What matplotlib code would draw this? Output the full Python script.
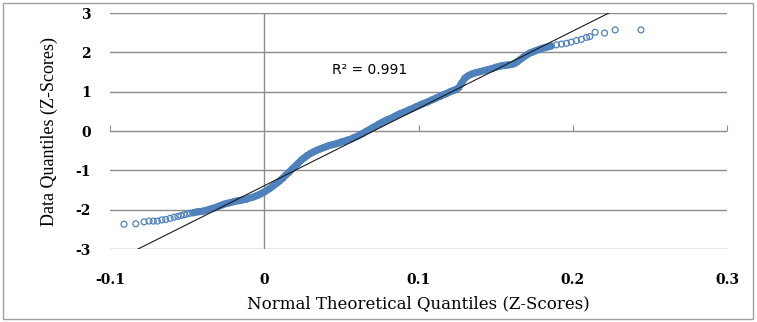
import matplotlib.pyplot as plt
from matplotlib.patches import Rectangle

plt.rcParams["axes.unicode_minus"] = False

# quantile pairs (x = normal theoretical, y = data)
qq_x = [-0.0909, -0.0833, -0.0779, -0.0747, -0.0719, -0.0693, -0.0664, -0.0639, -0.0610, -0.0584,
        -0.056, -0.054, -0.052, -0.050, -0.048, -0.046, -0.044, -0.042, -0.040, -0.038,
        -0.036, -0.034, -0.032, -0.030, -0.028, -0.026, -0.024, -0.022, -0.020, -0.018,
        -0.016, -0.014, -0.012, -0.010, -0.008, -0.006, -0.004, -0.002, 0.000, 0.002,
        0.004, 0.006, 0.008, 0.010, 0.012, 0.014, 0.016, 0.018, 0.020, 0.022,
        0.024, 0.026, 0.028, 0.030, 0.032, 0.034, 0.036, 0.038, 0.040, 0.042,
        0.044, 0.046, 0.048, 0.050, 0.052, 0.054, 0.056, 0.058, 0.060, 0.062,
        0.064, 0.066, 0.068, 0.070, 0.072, 0.074, 0.076, 0.078, 0.080, 0.082,
        0.084, 0.086, 0.088, 0.090, 0.092, 0.094, 0.096, 0.098, 0.100, 0.102,
        0.104, 0.106, 0.108, 0.110, 0.112, 0.114, 0.116, 0.118, 0.120, 0.122,
        0.124, 0.126, 0.128, 0.130, 0.132, 0.134, 0.136, 0.138, 0.140, 0.142,
        0.144, 0.146, 0.148, 0.150, 0.152, 0.154, 0.156, 0.158, 0.160, 0.162,
        0.164, 0.166, 0.168, 0.170, 0.172, 0.174, 0.176, 0.178, 0.180, 0.182,
        0.184, 0.186, 0.1894, 0.1927, 0.1959, 0.1991, 0.2024, 0.2056, 0.2089, 0.2110,
        0.2145, 0.2206, 0.2275, 0.2442]
qq_y = [-2.37, -2.36, -2.31, -2.29, -2.29, -2.29, -2.26, -2.25, -2.22, -2.19,
        -2.17, -2.15, -2.13, -2.11, -2.09, -2.08, -2.06, -2.05, -2.04, -2.02,
        -2.00, -1.97, -1.95, -1.92, -1.89, -1.86, -1.84, -1.82, -1.80, -1.78,
        -1.77, -1.75, -1.74, -1.71, -1.69, -1.66, -1.63, -1.59, -1.55, -1.50,
        -1.45, -1.39, -1.33, -1.27, -1.20, -1.12, -1.05, -0.97, -0.90, -0.82,
        -0.74, -0.68, -0.62, -0.57, -0.53, -0.49, -0.46, -0.43, -0.40, -0.37,
        -0.35, -0.33, -0.31, -0.28, -0.26, -0.23, -0.21, -0.17, -0.14, -0.10,
        -0.06, -0.01, 0.03, 0.08, 0.12, 0.17, 0.21, 0.25, 0.29, 0.32,
        0.36, 0.40, 0.44, 0.47, 0.50, 0.54, 0.57, 0.61, 0.64, 0.68,
        0.71, 0.74, 0.78, 0.81, 0.85, 0.88, 0.92, 0.95, 0.99, 1.02,
        1.05, 1.10, 1.22, 1.34, 1.40, 1.44, 1.47, 1.49, 1.51, 1.53,
        1.55, 1.57, 1.59, 1.62, 1.64, 1.66, 1.67, 1.68, 1.69, 1.71,
        1.76, 1.82, 1.88, 1.93, 1.98, 2.01, 2.04, 2.07, 2.10, 2.12,
        2.14, 2.16, 2.19, 2.21, 2.23, 2.26, 2.30, 2.33, 2.38, 2.40,
        2.51, 2.49, 2.57, 2.57]

# trend line as drawn in the reference
trend_slope = 19.66
trend_intercept = -1.392
r_squared = 0.991

x_ticks = [-0.1, 0, 0.1, 0.2, 0.3]
x_ticklabels = ["-0.1", "0", "0.1", "0.2", "0.3"]
y_ticks = [-3, -2, -1, 0, 1, 2, 3]
y_ticklabels = ["-3", "-2", "-1", "0", "1", "2", "3"]

blue = "#4F81BD"
grid = "#8C8C8C"

fig = plt.figure(figsize=(7.57, 3.22), dpi=100)
ax = fig.add_axes([0.1453, 0.2267, 0.8151, 0.7329])

ax.set_xlim(-0.1, 0.3)
ax.set_ylim(-3, 3)
for s in ax.spines.values():
    s.set_visible(False)

ax.set_yticks(y_ticks)
ax.set_yticklabels(y_ticklabels)
ax.yaxis.grid(True, color=grid, lw=1)
ax.set_axisbelow(True)
ax.axvline(0, color=grid, lw=1, zorder=1)

ax.set_xticks(x_ticks)
ax.set_xticklabels(x_ticklabels)
ax.tick_params(axis="both", length=0, labelsize=10)
ax.tick_params(axis="x", pad=17)
ax.tick_params(axis="y", pad=14)
for lab in ax.get_xticklabels() + ax.get_yticklabels():
    lab.set_fontfamily("DejaVu Serif")
    lab.set_fontweight("bold")

# x axis crossing at y = 0 with small outward ticks
sec = ax.secondary_xaxis(0.5)
sec.set_xticks(x_ticks)
sec.set_xticklabels([])
sec.tick_params(length=4, color=grid, direction="out", labelbottom=False, labeltop=False)
sec.spines["bottom"].set_color(grid)
for k in ["top", "left", "right"]:
    sec.spines[k].set_visible(False)

# dense middle of the sample: overlapping markers read as a solid band
dense = [(x, y) for x, y in zip(qq_x, qq_y) if -0.047 <= x <= 0.187]
ax.plot([p[0] for p in dense], [p[1] for p in dense], color=blue, lw=5,
        solid_capstyle="round", solid_joinstyle="round", zorder=3)
ax.scatter(qq_x, qq_y, s=18, facecolors="none", edgecolors=blue, linewidths=0.9, zorder=3)

lx = [-0.1, 0.3]
ly = [trend_intercept + trend_slope * v for v in lx]
ax.plot(lx, ly, color="#1a1a1a", lw=0.8, zorder=4)

ax.text(0.044, 1.55, "R² = %.3f" % r_squared, fontsize=10, family="DejaVu Sans", va="center")

ax.set_xlabel("Normal Theoretical Quantiles (Z-Scores)", fontsize=12, family="DejaVu Serif", labelpad=6)
ax.set_ylabel("Data Quantiles (Z-Scores)", fontsize=13, family="Liberation Serif", labelpad=12)

fig.patches.append(Rectangle((0.004, 0.01), 0.991, 0.98, transform=fig.transFigure,
                             fill=False, edgecolor="#A0A0A0", lw=1))

fig.savefig("out.png", dpi=100)
